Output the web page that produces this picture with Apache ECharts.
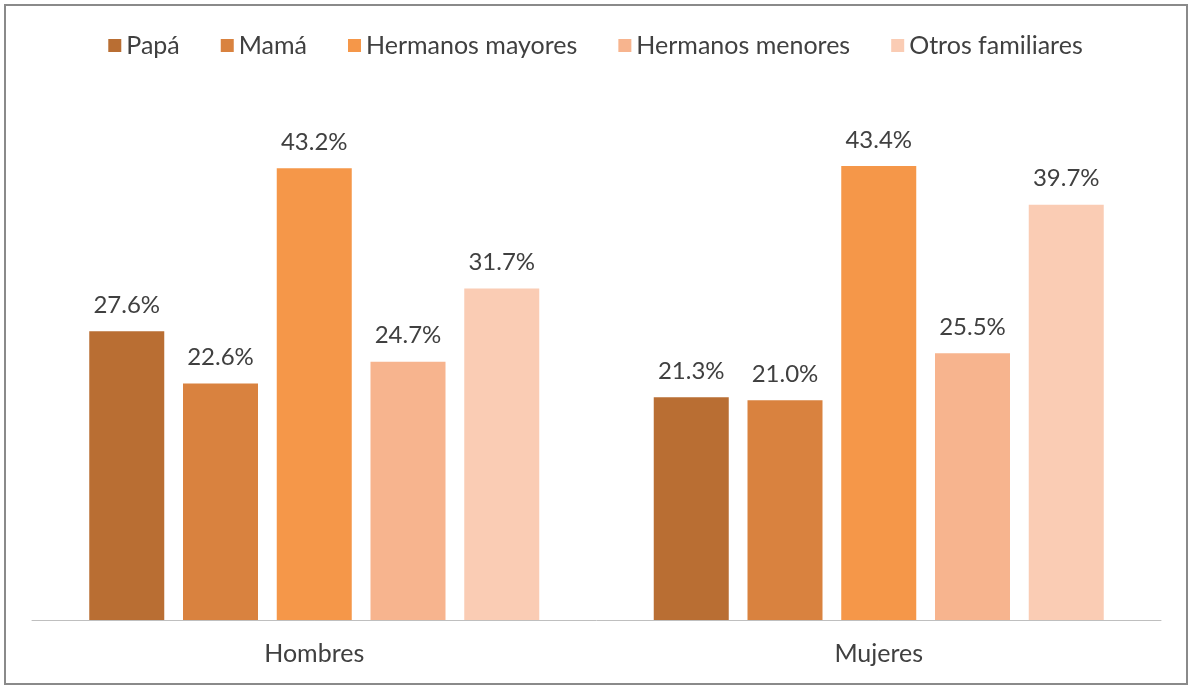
<!DOCTYPE html>
<html>
<head>
<meta charset="utf-8">
<script src="https://cdn.jsdelivr.net/npm/echarts@6/dist/echarts.min.js"></script>
<style>
  html, body { margin: 0; padding: 0; background: #fff; }
  #chart { width: 1191px; height: 687px; }
</style>
</head>
<body>
<div id="chart"></div>
<script>
// datos
var categories = ['Hombres', 'Mujeres'];
var seriesNames = ['Papá', 'Mamá', 'Hermanos mayores', 'Hermanos menores', 'Otros familiares'];
var papa = [27.6, 21.3];
var mama = [22.6, 21.0];
var hermanosMayores = [43.2, 43.4];
var hermanosMenores = [24.7, 25.5];
var otrosFamiliares = [31.7, 39.7];
var colors = ['#B96E33', '#D9823F', '#F59749', '#F7B48E', '#FACCB4'];

var values = [papa, mama, hermanosMayores, hermanosMenores, otrosFamiliares];

var chart = echarts.init(document.getElementById('chart'));
var series = seriesNames.map(function (name, i) {
  return {
    name: name,
    type: 'bar',
    data: values[i],
    barWidth: 75,
    barGap: '25%',
    itemStyle: { color: colors[i] },
    label: {
      show: true,
      position: 'top',
      distance: 14,
      color: '#404040',
      fontFamily: 'Lato',
      fontSize: 24,
      formatter: function (p) { return p.value.toFixed(1) + '%'; }
    }
  };
});

chart.setOption({
  backgroundColor: '#fff',
  animation: false,
  color: colors,
  graphic: [{
    type: 'rect',
    shape: { x: 5, y: 5, width: 1182, height: 679 },
    style: { fill: 'none', stroke: '#8a8a8a', lineWidth: 2 },
    z: 100
  }],
  legend: {
    top: 28,
    left: 'center',
    itemWidth: 13,
    itemHeight: 13,
    itemGap: 41,
    icon: 'rect',
    textStyle: { color: '#404040', fontFamily: 'Lato', fontSize: 25 },
    data: seriesNames
  },
  grid: { left: 32, right: 30, top: 97, bottom: 67 },
  xAxis: {
    type: 'category',
    data: categories,
    axisLine: { lineStyle: { color: '#BFBFBF', width: 1 } },
    axisTick: { show: false },
    axisLabel: { color: '#404040', fontFamily: 'Lato', fontSize: 25, margin: 21 }
  },
  yAxis: {
    type: 'value',
    min: 0,
    max: 50,
    show: false,
    splitLine: { show: false }
  },
  series: series
});
</script>
</body>
</html>
